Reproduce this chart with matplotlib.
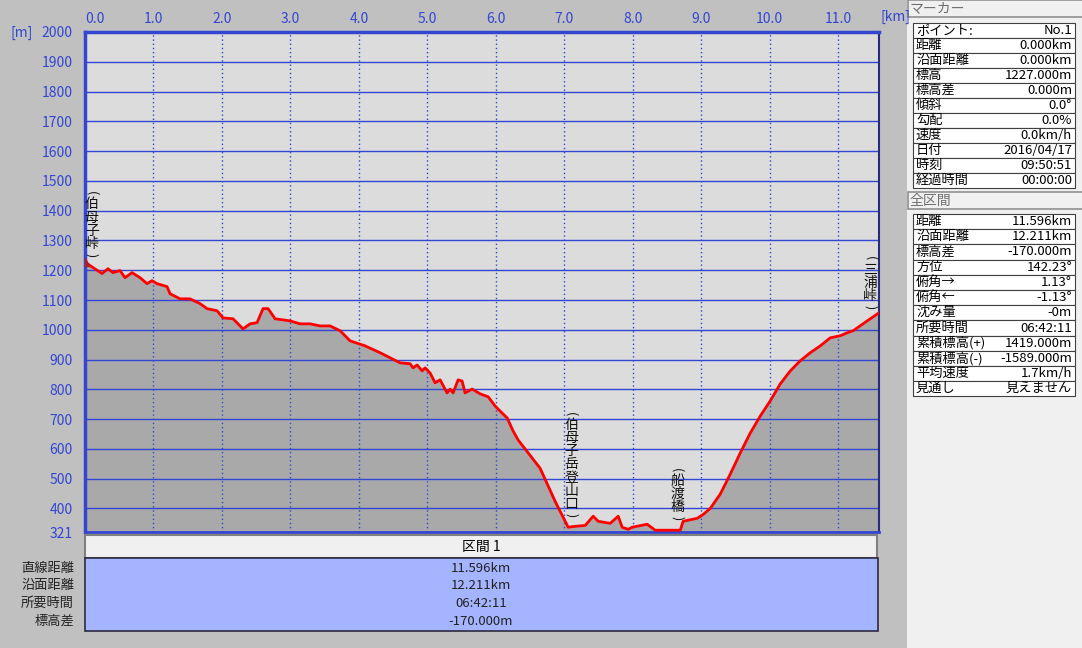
import numpy as np
import matplotlib
matplotlib.use("Agg")
import matplotlib.pyplot as plt
from matplotlib.patches import Rectangle

plt.rcParams['font.family'] = ['Noto Sans CJK JP', 'DejaVu Sans']

# elevation profile (km, m)
dist_km = [0.00, 0.117, 0.248, 0.336, 0.409, 0.511, 0.584, 0.687, 0.804, 0.906,
           0.979, 1.052, 1.198, 1.242, 1.388, 1.534, 1.680, 1.782, 1.928, 2.016,
           2.162, 2.308, 2.411, 2.513, 2.600, 2.674, 2.776, 2.995, 3.141, 3.287,
           3.433, 3.579, 3.725, 3.871, 4.091, 4.310, 4.602, 4.748, 4.792, 4.850,
           4.923, 4.967, 5.040, 5.113, 5.186, 5.288, 5.332, 5.376, 5.449, 5.507,
           5.551, 5.653, 5.771, 5.888, 5.990, 6.063, 6.165, 6.253, 6.326, 6.647,
           6.866, 7.056, 7.158, 7.305, 7.422, 7.495, 7.670, 7.787, 7.845, 7.933,
           7.991, 8.210, 8.327, 8.693, 8.736, 8.941, 9.029, 9.131, 9.277, 9.423,
           9.569, 9.715, 9.861, 10.007, 10.153, 10.300, 10.446, 10.592, 10.738,
           10.884, 11.030, 11.132, 11.220, 11.424, 11.596]
elev_m = [1227, 1209, 1189, 1205, 1192, 1199, 1175, 1192, 1175, 1155,
          1165, 1155, 1145, 1121, 1104, 1104, 1088, 1071, 1064, 1040,
          1037, 1003, 1020, 1024, 1071, 1071, 1037, 1030, 1020, 1020,
          1013, 1013, 997, 963, 946, 923, 889, 886, 872, 882,
          862, 872, 855, 822, 832, 788, 801, 788, 832, 828,
          788, 801, 785, 775, 744, 727, 704, 660, 630, 535,
          424, 337, 340, 343, 374, 357, 350, 374, 337, 330,
          337, 347, 327, 327, 357, 367, 380, 400, 448, 515,
          586, 653, 710, 761, 818, 862, 896, 923, 946,
          973, 980, 990, 997, 1030, 1057]

points = ['伯母子峠', '伯母子岳登山口', '船渡橋', '三浦峠']
points_km = [0.10, 7.10, 8.65, 11.47]

x_ticks = [0.0, 1.0, 2.0, 3.0, 4.0, 5.0, 6.0, 7.0, 8.0, 9.0, 10.0, 11.0]
y_ticks = [321, 400, 500, 600, 700, 800, 900, 1000, 1100, 1200, 1300, 1400,
           1500, 1600, 1700, 1800, 1900, 2000]

section_title = '区間 1'
section_labels = ['直線距離', '沿面距離', '所要時間', '標高差']
section_values = ['11.596km', '12.211km', '06:42:11', '-170.000m']

marker_labels = ['ポイント:', '距離', '沿面距離', '標高', '標高差', '傾斜', '勾配',
                 '速度', '日付', '時刻', '経過時間']
marker_values = ['No.1', '0.000km', '0.000km', '1227.000m', '0.000m', '0.0°',
                 '0.0%', '0.0km/h', '2016/04/17', '09:50:51', '00:00:00']

total_labels = ['距離', '沿面距離', '標高差', '方位', '俯角→', '俯角←', '沈み量',
                '所要時間', '累積標高(+)', '累積標高(-)', '平均速度', '見通し']
total_values = ['11.596km', '12.211km', '-170.000m', '142.23°', '1.13°', '-1.13°',
                '-0m', '06:42:11', '1419.000m', '-1589.000m', '1.7km/h', '見えません']

W, H = 1082, 648
blue = '#3246d2'
fig = plt.figure(figsize=(W / 100, H / 100), dpi=100, facecolor='#c0c0c0')


def fx(x):
    return x / W


def fy(y):
    return 1 - y / H


def box(x0, y0, x1, y1, fc, ec, lw=1.0):
    fig.add_artist(Rectangle((fx(x0), fy(y1)), fx(x1 - x0), (y1 - y0) / H,
                             transform=fig.transFigure, facecolor=fc,
                             edgecolor=ec, linewidth=lw))


# main profile
ax = fig.add_axes([fx(85), fy(532), fx(879 - 85), 500 / H])
ax.set_facecolor('#dcdcdc')
ax.set_xlim(0, 11.596)
ax.set_ylim(321, 2000)
ax.fill_between(dist_km, elev_m, 321, color='#a9a9a9', zorder=1)
for yv in y_ticks[1:-1]:
    ax.axhline(yv, color=blue, lw=1, zorder=2)
for xv in x_ticks[1:]:
    ax.axvline(xv, color=blue, lw=1, ls=(0, (1, 2)), zorder=2)
ax.plot(dist_km, elev_m, color='#ff0000', lw=2, zorder=3)
ax.plot(dist_km[0], elev_m[0], marker='^', color='#b02020', ms=6, zorder=4)

ax.xaxis.tick_top()
ax.set_xticks(x_ticks)
ax.set_xticklabels(['%.1f' % v for v in x_ticks])
ax.set_yticks(y_ticks)
ax.set_yticklabels([str(v) for v in y_ticks])
ax.tick_params(axis='x', length=0, pad=4, colors=blue, labelsize=10)
ax.tick_params(axis='y', length=0, pad=9, colors=blue, labelsize=10)
ax.get_xticklabels()[0].set_ha('left')
for side in ['top', 'left']:
    ax.spines[side].set_color(blue)
    ax.spines[side].set_linewidth(2.5)
ax.spines['bottom'].set_color(blue)
ax.spines['bottom'].set_linewidth(2)
ax.spines['right'].set_color('#2a2a80')
ax.spines['right'].set_linewidth(1.5)

# vertical waypoint names: stacked glyphs with turned brackets above and below
renderer = fig.canvas.get_renderer()
for name, km in zip(points, points_km):
    yv = np.interp(km, dist_km, elev_m)
    y_disp = ax.transData.transform((km, yv))[1]
    ax.annotate(')', xy=(km, yv), xytext=(0, 12), textcoords='offset pixels',
                ha='center', va='center', rotation=-90, rotation_mode='anchor',
                fontsize=9, color='#111111', zorder=5)
    t = ax.annotate('\n'.join(name), xy=(km, yv), xytext=(0, 16),
                    textcoords='offset pixels', ha='center', va='bottom',
                    ma='center', fontsize=10, linespacing=0.92,
                    color='#111111', zorder=5)
    top = t.get_window_extent(renderer).y1 - y_disp
    ax.annotate('(', xy=(km, yv), xytext=(0, top + 4), textcoords='offset pixels',
                ha='center', va='center', rotation=-90, rotation_mode='anchor',
                fontsize=9, color='#111111', zorder=5)

fig.text(fx(10), fy(33), '[m]', color=blue, fontsize=10, va='center')
fig.text(fx(881), fy(17), '[km]', color=blue, fontsize=10, va='center')

# section table under the profile
box(85, 535, 877, 558, '#f0f0f0', '#808080', 1.5)
fig.text(fx(481), fy(547), section_title, ha='center', va='center', fontsize=10)
box(85, 558, 878, 631, '#a4b4fe', '#2a2a40', 1.2)
for i, (lab, val) in enumerate(zip(section_labels, section_values)):
    yc = 568 + i * 17.7
    fig.text(fx(74), fy(yc), lab, ha='right', va='center', fontsize=9.5, color='#222222')
    fig.text(fx(481), fy(yc), val, ha='center', va='center', fontsize=9.5, color='#222222')

# right side panel
box(907, -2, W + 2, H + 2, '#f0f0f0', 'none')


def side_table(title, y_head, labels, values, y_top, row_h):
    box(908, y_head, W + 2, y_head + 17, '#f0f0f0', '#909090', 1.2)
    fig.text(fx(910), fy(y_head + 8.5), title, va='center', fontsize=10, color='#707070')
    for i, (lab, val) in enumerate(zip(labels, values)):
        y0 = y_top + i * row_h
        box(913, y0, 1075, y0 + row_h, 'white', '#404040', 0.8)
        fig.text(fx(916), fy(y0 + row_h / 2), lab, va='center', fontsize=9.5)
        fig.text(fx(1072), fy(y0 + row_h / 2), val, va='center', ha='right', fontsize=9.5)


side_table('マーカー', 0, marker_labels, marker_values, 23, 15.0)
side_table('全区間', 192, total_labels, total_values, 214, 15.2)

fig.savefig('out.png', dpi=100, facecolor=fig.get_facecolor())
